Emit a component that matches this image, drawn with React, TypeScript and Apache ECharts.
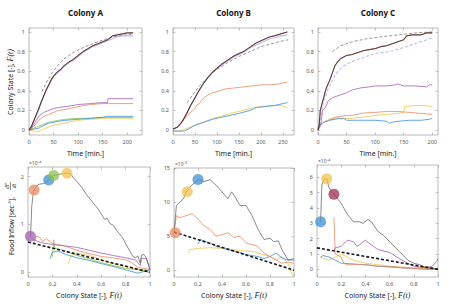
import React, { useEffect, useRef } from "react";
import * as echarts from "echarts";

// ---------- DATA ----------
const titles = ["Colony A", "Colony B", "Colony C"];
const timeTicksA = [0, 50, 100, 150, 200];
const timeTicksB = [0, 50, 100, 150, 200, 250];
const timeTicksC = [0, 50, 100, 150, 200];
const stateTicks = [0, 0.2, 0.4, 0.6, 0.8, 1];
const inflowTicksA = [0, 1, 2];
const inflowTicksB = [0, 5, 10, 15];
const inflowTicksC = [0, 1, 2, 3, 4, 5, 6];
const exponentLabels = ["×10⁻⁴", "×10⁻⁵", "×10⁻⁴"];

// Top row: colony state vs time
const topA_total = [[0,0],[5,0.04],[10,0.1],[15,0.16],[20,0.22],[25,0.29],[30,0.35],[35,0.41],[40,0.46],[45,0.51],[50,0.55],[55,0.58],[60,0.6],[65,0.62],[70,0.65],[75,0.67],[80,0.69],[90,0.72],[100,0.76],[110,0.8],[120,0.83],[130,0.86],[140,0.88],[150,0.9],[160,0.92],[165,0.94],[170,0.96],[180,0.97],[190,0.98],[200,0.99],[212,0.99]];
const topA_sum = [[0,0],[5,0.03],[10,0.09],[15,0.15],[20,0.21],[25,0.28],[30,0.34],[35,0.4],[40,0.45],[45,0.5],[50,0.54],[55,0.57],[60,0.59],[70,0.64],[80,0.68],[90,0.71],[100,0.75],[110,0.79],[120,0.82],[130,0.85],[140,0.87],[150,0.89],[160,0.91],[170,0.93],[180,0.95],[190,0.96],[200,0.96],[212,0.96]];
const topA_model = [[26,0.39],[35,0.48],[45,0.57],[57,0.65],[70,0.72],[90,0.79],[110,0.84],[140,0.9],[170,0.95],[212,0.98]];
const topA_purple = [[0,0],[5,0.02],[10,0.06],[15,0.1],[20,0.14],[25,0.16],[30,0.18],[40,0.2],[50,0.22],[60,0.23],[75,0.24],[100,0.26],[125,0.27],[150,0.28],[160,0.28],[161,0.32],[212,0.32]];
const topA_orange = [[0,0],[5,0.01],[10,0.04],[15,0.07],[20,0.1],[25,0.12],[30,0.14],[40,0.16],[50,0.18],[60,0.2],[75,0.21],[100,0.24],[125,0.26],[150,0.27],[175,0.27],[212,0.27]];
const topA_green = [[0,0],[10,0.02],[20,0.04],[30,0.06],[40,0.08],[50,0.09],[60,0.1],[75,0.11],[100,0.12],[125,0.12],[150,0.13],[212,0.13]];
const topA_blue = [[0,0],[10,0.01],[20,0.02],[30,0.05],[40,0.07],[50,0.08],[60,0.09],[75,0.1],[100,0.11],[125,0.12],[150,0.13],[160,0.14],[212,0.14]];
const topA_yellow = [[0,0],[10,-0.01],[20,-0.02],[25,0],[30,0.01],[40,0.03],[50,0.05],[60,0.06],[80,0.08],[100,0.1],[125,0.11],[150,0.12],[212,0.12]];

const topB_total = [[0,0.01],[10,0.03],[20,0.08],[30,0.16],[40,0.25],[50,0.33],[60,0.41],[70,0.48],[80,0.54],[90,0.59],[100,0.63],[110,0.67],[120,0.7],[130,0.73],[140,0.76],[150,0.78],[160,0.8],[170,0.83],[180,0.86],[190,0.89],[200,0.91],[210,0.93],[220,0.95],[230,0.96],[245,0.98],[260,1.0]];
const topB_sum = [[0,0.01],[10,0.03],[20,0.08],[30,0.16],[40,0.25],[50,0.33],[60,0.41],[70,0.48],[80,0.54],[90,0.59],[100,0.63],[110,0.66],[120,0.69],[130,0.72],[140,0.75],[150,0.77],[160,0.79],[170,0.82],[180,0.85],[190,0.87],[200,0.89],[210,0.91],[220,0.93],[230,0.94],[245,0.96],[260,0.97]];
const topB_model = [[32,0.28],[40,0.33],[50,0.39],[60,0.45],[75,0.52],[90,0.58],[100,0.62],[125,0.69],[150,0.75],[175,0.8],[200,0.85],[225,0.88],[250,0.91],[262,0.92]];
const topB_orange = [[0,0.01],[10,0.03],[20,0.08],[30,0.14],[40,0.18],[50,0.22],[55,0.26],[60,0.27],[70,0.33],[80,0.36],[90,0.38],[100,0.39],[120,0.42],[140,0.43],[160,0.44],[180,0.45],[200,0.46],[220,0.46],[240,0.47],[260,0.49]];
const topB_yellow = [[0,-0.01],[15,-0.01],[25,0.01],[40,0.03],[50,0.05],[70,0.08],[90,0.12],[110,0.14],[130,0.17],[150,0.19],[175,0.22],[200,0.24],[225,0.25],[245,0.25],[260,0.23]];
const topB_blue = [[0,-0.01],[25,-0.01],[35,0.01],[50,0.05],[70,0.08],[90,0.11],[110,0.13],[130,0.15],[150,0.17],[175,0.2],[190,0.23],[210,0.24],[230,0.25],[250,0.27],[260,0.28]];

const topC_total = [[0,0],[2,0.05],[4,0.2],[7,0.27],[10,0.33],[13,0.4],[16,0.45],[20,0.5],[25,0.58],[30,0.66],[35,0.7],[40,0.73],[50,0.76],[60,0.77],[70,0.79],[80,0.81],[90,0.82],[100,0.83],[110,0.85],[120,0.86],[130,0.88],[140,0.9],[150,0.92],[155,0.96],[165,0.97],[180,0.97],[190,0.99],[200,0.99]];
const topC_sum = [[0,0],[5,0.15],[10,0.3],[20,0.45],[30,0.56],[40,0.63],[50,0.67],[60,0.7],[75,0.73],[90,0.76],[100,0.78],[125,0.8],[150,0.84],[175,0.89],[200,0.94]];
const topC_model = [[25,0.8],[40,0.86],[60,0.9],[85,0.93],[110,0.95],[140,0.97],[170,0.99],[200,1.0]];
const topC_purple = [[0,0],[4,0.05],[6,0.1],[8,0.2],[12,0.22],[18,0.3],[25,0.33],[35,0.35],[50,0.38],[60,0.41],[75,0.43],[90,0.44],[100,0.45],[120,0.45],[135,0.46],[140,0.47],[150,0.45],[170,0.45],[190,0.44],[195,0.46],[200,0.46]];
const topC_orange = [[0,0],[5,0.05],[10,0.08],[20,0.11],[30,0.13],[40,0.14],[50,0.15],[60,0.15],[75,0.17],[90,0.18],[100,0.18],[120,0.19],[140,0.19],[160,0.18],[180,0.17],[200,0.16]];
const topC_yellow = [[0,0.03],[5,0.06],[10,0.08],[20,0.1],[30,0.12],[35,0.13],[40,0.11],[50,0.12],[60,0.12],[75,0.13],[90,0.14],[100,0.15],[120,0.16],[140,0.17],[150,0.18],[152,0.24],[170,0.25],[185,0.25],[200,0.24]];
const topC_blue = [[0,0.03],[5,0.06],[10,0.08],[20,0.1],[30,0.11],[40,0.12],[45,0.12],[50,0.1],[60,0.1],[75,0.1],[100,0.1],[120,0.09],[125,0.07],[130,0.08],[140,0.09],[160,0.1],[180,0.1],[195,0.11],[200,0.12]];

// Bottom row: food inflow vs colony state
const botA_total = [[0.02,0.75],[0.025,1.0],[0.03,1.35],[0.04,1.6],[0.05,1.72],[0.07,1.8],[0.09,1.84],[0.12,1.85],[0.15,1.88],[0.17,1.93],[0.19,1.97],[0.21,2.02],[0.24,2.04],[0.28,2.06],[0.32,2.07],[0.35,2.06],[0.37,1.98],[0.4,1.9],[0.44,1.78],[0.48,1.62],[0.53,1.46],[0.57,1.34],[0.6,1.22],[0.63,1.1],[0.65,1.13],[0.67,1.02],[0.7,0.98],[0.73,0.86],[0.77,0.74],[0.8,0.6],[0.83,0.46],[0.86,0.33],[0.88,0.3],[0.9,0.34],[0.92,0.19],[0.93,0.36],[0.95,0.37],[0.97,0.3],[0.99,0.15],[1.0,0.05]];
const botA_purple = [[0.02,0.75],[0.05,0.68],[0.1,0.62],[0.2,0.58],[0.3,0.55],[0.4,0.52],[0.5,0.46],[0.6,0.4],[0.7,0.35],[0.8,0.3],[0.88,0.26],[0.92,0.14],[0.93,0.3],[0.97,0.28],[1.0,0.05]];
const botA_orange = [[0.05,0.62],[0.07,0.76],[0.1,0.72],[0.12,0.64],[0.15,0.7],[0.2,0.6],[0.3,0.55],[0.4,0.46],[0.5,0.39],[0.6,0.33],[0.7,0.3],[0.8,0.26],[0.85,0.2],[0.9,0.1],[1.0,0.06]];
const botA_green = [[0.2,0.32],[0.21,0.68],[0.22,0.5],[0.3,0.45],[0.4,0.35],[0.5,0.28],[0.6,0.2],[0.7,0.14],[0.8,0.08],[0.9,0.05],[1.0,0.02]];
const botA_blue = [[0.18,0.28],[0.2,0.42],[0.25,0.44],[0.3,0.38],[0.4,0.3],[0.5,0.25],[0.6,0.18],[0.7,0.12],[0.8,0.05],[0.9,-0.02],[1.0,0.05]];
const botA_yellow = [[0.33,0.18],[0.35,0.34],[0.4,0.4],[0.5,0.35],[0.6,0.26],[0.7,0.18],[0.8,0.12],[0.9,0.06],[1.0,0.05]];
const botA_fit = [[0,0.63],[1,0]];
const botA_starts = [[0.02,0.75],[0.05,1.72],[0.17,1.93],[0.21,2.02],[0.32,2.07]];

const botB_total = [[0,5.5],[0.02,9.5],[0.05,10],[0.08,10.5],[0.1,11.5],[0.15,12.5],[0.2,13.3],[0.25,13],[0.3,13.3],[0.35,12.5],[0.4,11.5],[0.45,10.5],[0.48,11.5],[0.5,11],[0.55,9.5],[0.6,9.5],[0.65,8],[0.7,6],[0.75,4.5],[0.8,4.7],[0.83,4.2],[0.87,4.3],[0.9,3],[0.95,1.5],[1,1.5]];
const botB_orange = [[0,5.5],[0.02,8],[0.05,7.7],[0.1,8],[0.15,8.3],[0.2,7.5],[0.25,6.5],[0.3,6],[0.35,5],[0.4,5.2],[0.45,5.5],[0.5,4.8],[0.55,5],[0.6,4],[0.7,3.5],[0.75,2.5],[0.8,2],[0.85,1.5],[0.9,1],[0.95,1.2],[1,1]];
const botB_blue = [[0.2,3.8],[0.22,4.5],[0.25,4.3],[0.3,4],[0.35,3.5],[0.4,3.3],[0.45,3],[0.5,2.8],[0.55,2.6],[0.6,2.3],[0.7,2],[0.75,1.7],[0.8,2],[0.85,2.5],[0.9,1.8],[0.95,1.5],[1,1.7]];
const botB_yellow = [[0.12,2.5],[0.13,3],[0.2,3.2],[0.3,3.3],[0.4,3.2],[0.5,3],[0.6,2.8],[0.65,2.8],[0.7,2.5],[0.8,2],[0.85,1.5],[0.9,2],[0.95,1],[0.98,-0.5],[1,-1]];
const botB_fit = [[0,5.6],[1,0]];
const botB_starts = [[0.01,5.5],[0.11,11.5],[0.2,13.3]];

const botC_total = [[0.03,3.1],[0.04,5.5],[0.06,5.9],[0.08,5.9],[0.1,5.3],[0.14,4.9],[0.2,4.3],[0.25,3.6],[0.3,3.1],[0.35,3.1],[0.38,3.0],[0.42,3.25],[0.45,3.1],[0.5,2.5],[0.55,2.2],[0.6,1.8],[0.65,1.4],[0.7,1.0],[0.75,0.6],[0.8,0.4],[0.85,0.3],[0.9,0.1],[0.95,0.1],[1,0]];
const botC_purple = [[0.14,1.2],[0.15,1.4],[0.2,1.5],[0.25,1.9],[0.3,1.8],[0.33,1.5],[0.35,1.6],[0.4,1.9],[0.43,1.7],[0.5,1.3],[0.6,1.1],[0.7,0.6],[0.75,0.4],[0.8,0.2],[0.9,0.1],[0.95,0.2],[0.99,0.5],[1,0.7]];
const botC_orange = [[0.14,3.4],[0.15,1.0],[0.2,0.8],[0.22,0.4],[0.25,0.3],[0.3,0.3],[0.4,0.3],[0.5,0.2],[0.6,0.2],[0.7,0.1],[0.8,0.05],[0.9,0.05],[1,0]];
const botC_yellow = [[0.03,0.8],[0.06,0.7],[0.1,0.6],[0.15,0.8],[0.2,1.0],[0.25,0.8],[0.3,0.6],[0.4,0.4],[0.5,0.3],[0.6,0.2],[0.7,0.15],[0.8,0.1],[0.9,0.2],[0.95,0.1],[1,0]];
const botC_blue = [[0.03,0.8],[0.05,0.9],[0.1,0.8],[0.15,0.6],[0.2,0.4],[0.3,0.35],[0.4,0.3],[0.5,0.2],[0.6,0.15],[0.7,0.1],[0.8,0.05],[0.9,0],[1,0]];
const botC_fit = [[0,1.4],[1,0]];
const botC_starts = [[0.03,3.1],[0.08,5.9],[0.14,4.9]];

// ---------- STYLE ----------
const C = {
  blue: "#3f8fd2",
  orange: "#ea8a63",
  yellow: "#f2c24f",
  purple: "#a35fb3",
  green: "#8dc24c",
  maroon: "#9c2f55",
  gray: "#5a5a5a",
  lav: "#b3b3f3",
  red: "#a0403a",
  model: "#8a8a8a",
};
const FONT = "Noto Sans";
const TICK = "#9a9a9a";

// grid boxes [left, top, width, height], axis ranges
const panels = [
  { box: [29, 28, 113, 107], x: [0, 230], y: [-0.05, 1.04], xt: timeTicksA, yt: stateTicks },
  { box: [173, 28, 121, 107], x: [0, 275], y: [-0.05, 1.04], xt: timeTicksB, yt: stateTicks },
  { box: [318, 28, 120, 107], x: [0, 210], y: [-0.05, 1.04], xt: timeTicksC, yt: stateTicks },
  { box: [28, 167, 122, 110], x: [0, 1], y: [-0.1, 2.2], xt: stateTicks, yt: inflowTicksA },
  { box: [174, 168, 120, 109], x: [0, 1], y: [-1, 15], xt: stateTicks, yt: inflowTicksB },
  { box: [317, 165, 121, 112], x: [0, 1], y: [-0.5, 6.8], xt: stateTicks, yt: inflowTicksC },
];

type LS = { d: number[][]; c: string; w?: number; dash?: boolean; o?: number };
const panelLines: LS[][] = [
  [
    { d: topA_model, c: C.model, w: 1, dash: true },
    { d: topA_sum, c: C.lav, w: 1.1 },
    { d: topA_yellow, c: C.yellow },
    { d: topA_green, c: C.green },
    { d: topA_blue, c: C.blue },
    { d: topA_orange, c: C.orange },
    { d: topA_purple, c: C.purple },
    { d: topA_total, c: C.red, w: 1.1, o: 0.7 },
    { d: topA_total, c: "#1a1a1a", w: 0.7 },
  ],
  [
    { d: topB_model, c: C.model, w: 1, dash: true },
    { d: topB_sum, c: C.lav, w: 1.1 },
    { d: topB_yellow, c: C.yellow },
    { d: topB_blue, c: C.blue },
    { d: topB_orange, c: C.orange },
    { d: topB_total, c: C.red, w: 1.1, o: 0.7 },
    { d: topB_total, c: "#1a1a1a", w: 0.7 },
  ],
  [
    { d: topC_model, c: C.model, w: 1, dash: true },
    { d: topC_sum, c: C.lav, w: 1.1, dash: true },
    { d: topC_yellow, c: C.yellow },
    { d: topC_blue, c: C.blue },
    { d: topC_orange, c: C.orange },
    { d: topC_purple, c: C.purple },
    { d: topC_total, c: C.red, w: 1.1, o: 0.7 },
    { d: topC_total, c: "#1a1a1a", w: 0.7 },
  ],
  [
    { d: botA_yellow, c: C.yellow },
    { d: botA_green, c: C.green },
    { d: botA_blue, c: C.blue },
    { d: botA_orange, c: C.orange },
    { d: botA_purple, c: C.purple },
    { d: botA_total, c: C.gray, w: 0.8 },
    { d: botA_fit, c: "#000", w: 1.6, dash: true },
  ],
  [
    { d: botB_yellow, c: C.yellow },
    { d: botB_blue, c: C.blue },
    { d: botB_orange, c: C.orange },
    { d: botB_total, c: C.gray, w: 0.8 },
    { d: botB_fit, c: "#000", w: 1.6, dash: true },
  ],
  [
    { d: botC_yellow, c: C.yellow },
    { d: botC_blue, c: C.blue },
    { d: botC_orange, c: C.orange },
    { d: botC_purple, c: C.purple },
    { d: botC_total, c: C.gray, w: 0.8 },
    { d: botC_fit, c: "#000", w: 1.6, dash: true },
  ],
];

const panelDots: { d: number[][]; c: string[] }[] = [
  { d: botA_starts, c: [C.purple, C.orange, C.blue, C.green, C.yellow] },
  { d: botB_starts, c: [C.orange, C.yellow, C.blue] },
  { d: botC_starts, c: [C.blue, C.yellow, C.maroon] },
];

function buildOption() {
  const grid: any[] = [];
  const xAxis: any[] = [];
  const yAxis: any[] = [];
  const series: any[] = [];
  const mirrorX: any[] = [];
  const mirrorY: any[] = [];

  panels.forEach((p, i) => {
    const [l, t, w, h] = p.box;
    grid.push({
      left: l, top: t, width: w, height: h,
      show: true, borderColor: "#a8a8a8", borderWidth: 0.8, backgroundColor: "transparent",
    });
    const common = {
      gridIndex: i, type: "value", splitLine: { show: false },
      axisLine: { show: false, onZero: false },
    };
    const tick = (vals: number[]) => ({ inside: true, length: 2.5, lineStyle: { color: TICK, width: 0.6 }, customValues: vals });
    const lab = (vals: number[]) => ({ fontSize: 5.5, color: "#555", margin: 4, fontFamily: FONT, customValues: vals });
    xAxis.push({ ...common, position: "bottom", min: p.x[0], max: p.x[1], axisTick: tick(p.xt), axisLabel: lab(p.xt) });
    yAxis.push({ ...common, position: "left", min: p.y[0], max: p.y[1], axisTick: tick(p.yt), axisLabel: lab(p.yt) });
    mirrorX.push({ ...common, position: "top", min: p.x[0], max: p.x[1], axisTick: tick(p.xt), axisLabel: { show: false } });
    mirrorY.push({ ...common, position: "right", min: p.y[0], max: p.y[1], axisTick: tick(p.yt), axisLabel: { show: false } });

    panelLines[i].forEach((s, k) => {
      series.push({
        type: "line", xAxisIndex: i, yAxisIndex: i, data: s.d, symbol: "none",
        silent: true, z: 2 + k,
        lineStyle: { color: s.c, width: s.w ?? 0.9, type: s.dash ? [3, 2] : "solid", opacity: s.o ?? 0.9 },
      });
    });
  });

  panelDots.forEach((pd, j) => {
    const gi = 3 + j;
    series.push({
      type: "scatter", xAxisIndex: gi, yAxisIndex: gi, symbolSize: 11, silent: true, z: 20,
      data: pd.d.map((v, k) => ({ value: v, itemStyle: { color: pd.c[k], opacity: 0.75 } })),
    });
  });

  const titleCenters = panels.slice(0, 3).map((p) => p.box[0] + p.box[2] / 2);
  const botCenters = panels.slice(3).map((p) => p.box[0] + p.box[2] / 2);
  const italic = { fontSize: 8, fontStyle: "italic", fontFamily: "Liberation Serif", fill: "#222" };

  const graphic: any[] = [];
  titles.forEach((tx, i) => {
    graphic.push({
      type: "text", x: titleCenters[i], y: 12,
      style: { text: tx, fontSize: 8, fontWeight: "bold", fontFamily: FONT, fill: "#111", align: "center", verticalAlign: "middle" },
    });
    graphic.push({
      type: "text", x: titleCenters[i], y: 153,
      style: { text: "Time [min.]", fontSize: 7, fontFamily: FONT, fill: "#222", align: "center", verticalAlign: "middle" },
    });
    graphic.push({
      type: "text", x: botCenters[i], y: 295,
      style: {
        text: "Colony State [-], {i|F(t)}", fontSize: 7, fontFamily: FONT, fill: "#222", align: "center", verticalAlign: "middle",
        rich: { i: italic },
      },
    });
    const bp = panels[3 + i].box;
    graphic.push({
      type: "text", x: bp[0] + 1, y: bp[1] - 2,
      style: { text: exponentLabels[i], fontSize: 5, fontFamily: FONT, fill: "#555", align: "left", verticalAlign: "bottom" },
    });
  });
  graphic.push({
    type: "text", x: 10, y: 82, rotation: Math.PI / 2,
    style: {
      text: "Colony State [-], {i|F(t)}", fontSize: 7, fontFamily: FONT, fill: "#222", align: "center", verticalAlign: "middle",
      rich: { i: italic },
    },
  });
  graphic.push({
    type: "text", x: 11, y: 226, rotation: Math.PI / 2,
    style: { text: "Food Inflow [sec⁻¹],", fontSize: 6.5, fontFamily: FONT, fill: "#222", align: "center", verticalAlign: "middle" },
  });
  graphic.push({
    type: "text", x: 7, y: 186, rotation: Math.PI / 2,
    style: { text: "dF", fontSize: 5.5, fontStyle: "italic", fontFamily: "Liberation Serif", fill: "#222", align: "center", verticalAlign: "middle" },
  });
  graphic.push({
    type: "line", shape: { x1: 10.5, y1: 182, x2: 10.5, y2: 190 }, style: { stroke: "#222", lineWidth: 0.5 },
  });
  graphic.push({
    type: "text", x: 14, y: 186, rotation: Math.PI / 2,
    style: { text: "dt", fontSize: 5.5, fontStyle: "italic", fontFamily: "Liberation Serif", fill: "#222", align: "center", verticalAlign: "middle" },
  });

  return {
    animation: false,
    backgroundColor: "#fff",
    grid,
    xAxis: [...xAxis, ...mirrorX],
    yAxis: [...yAxis, ...mirrorY],
    series,
    graphic,
  };
}

export default function App() {
  const ref = useRef<HTMLDivElement>(null);
  useEffect(() => {
    if (!ref.current) return;
    const chart = echarts.init(ref.current, undefined, { renderer: "svg" });
    chart.setOption(buildOption() as any);
    return () => chart.dispose();
  }, []);
  return (
    <div
      ref={ref}
      style={{ position: "absolute", left: 0, top: 0, width: 452, height: 304, background: "#fff" }}
    />
  );
}
